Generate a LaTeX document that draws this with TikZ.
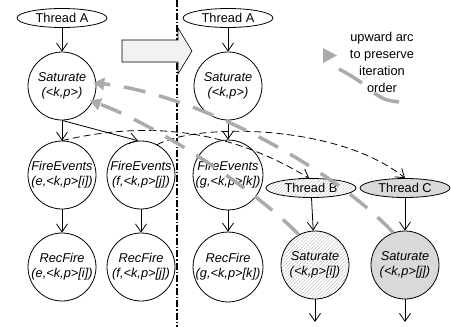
\documentclass[tikz,border=0pt]{standalone}
\usepackage{fontspec}
\setmainfont{Liberation Sans}
\usetikzlibrary{shapes.geometric,arrows.meta,patterns.meta}
\begin{document}
\begin{tikzpicture}[x=1pt,y=-1pt,
  font=\fontsize{12.8}{15}\selectfont,
  thr/.style={ellipse,draw,line width=0.8pt,minimum width=90pt,minimum height=19pt,inner sep=0pt},
  proc/.style={circle,draw,line width=0.8pt,minimum size=68pt,inner sep=0pt,align=center,font=\fontsize{12.8}{15}\selectfont\itshape},
  arr/.style={line width=0.8pt,-{Straight Barb[length=8pt,width=11pt]}},
  darr/.style={arr,dash pattern=on 7pt off 4pt},
  garr/.style={draw=black!33,line width=3.5pt,dash pattern=on 22pt off 14pt,-{Triangle[length=11pt,width=12pt]}},
  hatch/.style={pattern={Lines[angle=45,distance=2.5pt,line width=0.35pt]},pattern color=black!30},
  shade/.style={fill=black!15},
  legarc/.style={draw=black!33,line width=3.5pt},
]
\useasboundingbox (0,0) rectangle (451,327);
% divider
\coordinate (dtop) at (177,0);
\coordinate (dbot) at (177,327);
\draw[line width=1.8pt,dash pattern=on 7pt off 2pt on 1.5pt off 2pt] (dtop) -- (dbot);
% block arrow
\draw[line width=0.6pt,fill=black!5] (122,40) -- (178,40) -- (178,28) -- (192,51) -- (178,74) -- (178,62) -- (122,62) -- cycle;
% nodes
\node[thr] (TA1) at (62,18) {Thread A};
\node[proc] (S1) at (62,86) {Saturate\\(<k,p>)};
\node[proc] (FE) at (62,175) {FireEvents\\(e,<k,p>[i])};
\node[proc] (FF) at (141,175) {FireEvents\\(f,<k,p>[j])};
\node[proc] (RE) at (62,267) {RecFire\\(e,<k,p>[i])};
\node[proc] (RF) at (141,267) {RecFire\\(f,<k,p>[j])};
\node[thr] (TA2) at (228,18) {Thread A};
\node[proc] (S2) at (228,86) {Saturate\\(<k,p>)};
\node[proc] (FG) at (228,175) {FireEvents\\(g,<k,p>[k])};
\node[proc] (RG) at (228,267) {RecFire\\(g,<k,p>[k])};
\node[thr,hatch] (TB) at (311,188) {Thread B};
\node[thr,shade] (TC) at (405,188) {Thread C};
\node[proc,hatch] (SB) at (315,265) {Saturate\\(<k,p>[i])};
\node[proc,shade] (SC) at (405,265) {Saturate\\(<k,p>[j])};
\coordinate (SBout) at (315,322);
\coordinate (SCout) at (405,322);
% solid arrows
\draw[arr] (TA1) -- (S1);
\draw[arr] (S1) -- (FE);
\draw[arr] (S1.south) -- (FF.95);
\draw[arr] (FE) -- (RE);
\draw[arr] (FF) -- (RF);
\draw[arr] (TA2) -- (S2);
\draw[arr] (S2) -- (FG);
\draw[arr] (FG) -- (RG);
\draw[arr] (TB) -- (SB);
\draw[arr] (TC) -- (SC);
\draw[arr] (SB) -- (SBout);
\draw[arr] (SC) -- (SCout);
% dashed arrows
\draw[darr] (FE.north) .. controls (150,120) and (230,130) .. (TB.100);
\draw[darr] (FF.62) .. controls (200,122) and (340,125) .. (TC.north);
% legend
\node[align=center,font=\fontsize{12.8}{17}\selectfont] (leg) at (382,62) {upward arc\\to preserve\\iteration\\order};
\fill[black!33] (323,48) -- (337,55.5) -- (323,63) -- cycle;
\draw[legarc] (339,69) .. controls (350,75) .. (362,83);
\draw[legarc] (374,93) .. controls (385,100) .. (399,102);
% gray upward arcs
\draw[garr,shorten >=-3pt] (SC.110) .. controls (335,170) and (200,95) .. (S1.5);
\draw[garr,shorten >=-3pt] (SB.118) .. controls (250,185) and (150,122) .. (S1.-27);
\end{tikzpicture}
\end{document}
